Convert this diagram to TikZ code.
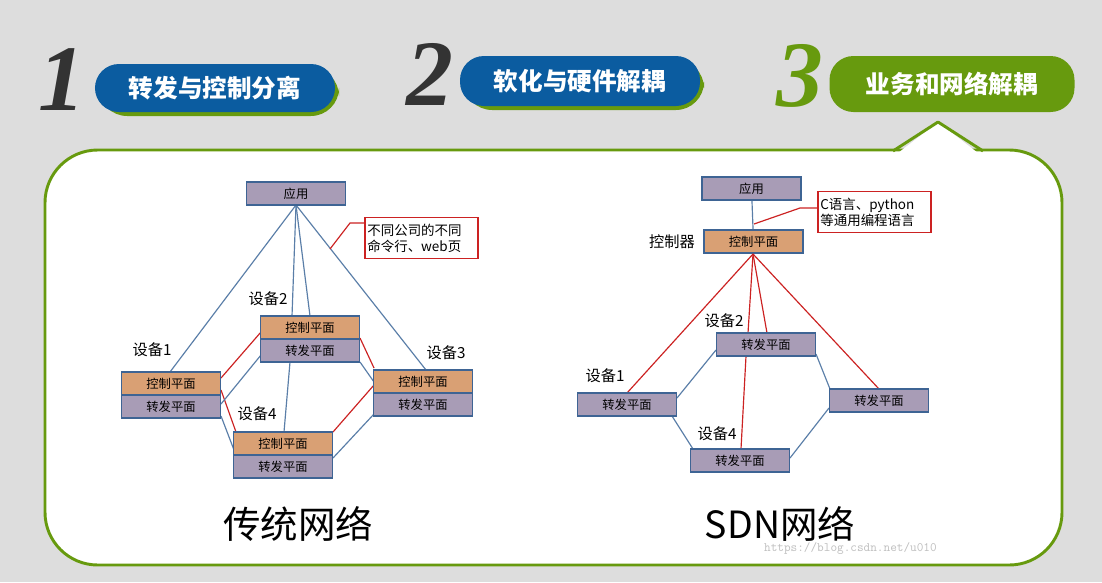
\documentclass[tikz,border=0pt]{standalone}
\usepackage{fontspec}
\setmainfont{Liberation Serif}
\newfontfamily\cjk{Noto Sans CJK SC}
\definecolor{bg}{HTML}{DDDDDD}
\definecolor{pblue}{HTML}{0B5CA0}
\definecolor{pgreen}{HTML}{679A0E}
\definecolor{boxp}{HTML}{A89CB6}
\definecolor{boxo}{HTML}{D9A074}
\definecolor{bord}{HTML}{3E6494}
\definecolor{lnblue}{HTML}{5A7EA8}
\definecolor{lnred}{HTML}{CC2222}
\begin{document}
\begin{tikzpicture}[x=0.03cm,y=-0.03cm,
  dbox/.style={draw=bord,line width=1.4pt,minimum width=2.97cm,minimum height=0.69cm,inner sep=0pt,font=\cjk\fontsize{10.5}{11}\selectfont},
  pb/.style={dbox,fill=boxp},
  po/.style={dbox,fill=boxo},
  lbl/.style={font=\cjk\fontsize{13}{14}\selectfont,anchor=center},
  bl/.style={lnblue,line width=1pt},
  rl/.style={lnred,line width=1pt},
  note/.style={draw=lnred,line width=1pt,fill=white,align=left,inner sep=2pt,minimum width=3.39cm,minimum height=1.23cm,font=\cjk\fontsize{11.5}{13.5}\selectfont,text width=3.25cm},
  pill/.style={rounded corners=0.72cm,inner sep=0pt,font=\cjk\bfseries\fontsize{21}{22}\selectfont,text=white},
  num/.style={font=\bfseries\itshape\fontsize{80}{80}\selectfont}]
\useasboundingbox (0,0) rectangle (1102,582);
\fill[bg] (0,0) rectangle (1102,582);
% header
\node[num,text=black!80] (n1) at (62,80) {1};
\fill[pgreen,rounded corners=24] (99,68) rectangle (339,116);
\node[pill,fill=pblue,minimum width=7.2cm,minimum height=1.44cm] (p1) at (215,88) {转发与控制分离};
\node[num,text=black!80] (n2) at (430,74) {2};
\fill[pgreen,rounded corners=24] (464,60) rectangle (704,110);
\node[pill,fill=pblue,minimum width=7.2cm,minimum height=1.5cm] (p2) at (580,81) {软化与硬件解耦};
\node[num,text=pgreen] (n3) at (800,76) {3};
\node[pill,fill=pgreen,minimum width=7.35cm,minimum height=1.68cm] (p3) at (952,84) {业务和网络解耦};
% panel
\draw[pgreen,line width=2.5pt,fill=white,rounded corners=45] (45,150) rectangle (1062,565);
\fill[white] (898,153) -- (938,122) -- (978,153) -- cycle;
\draw[pgreen,line width=2.5pt,line join=round] (893,151) -- (938,122) -- (983,151);
% ---------- left diagram
\coordinate (a0) at (296,205);
\draw[bl] (a0) -- (170,372);
\draw[bl] (a0) -- (292,316);
\draw[bl] (a0) -- (310,316);
\draw[bl] (a0) -- (426,370);
\coordinate (nl) at (330,249);
\node[note] (n1box) at (421.5,238) {不同公司的不同\\命令行、web页};
\coordinate (k1) at (350,223);
\draw[rl] (n1box.west|-k1) -- (k1) -- (nl);
\draw[rl] (221,378) -- (261,332);
\draw[rl] (221,390) -- (236,432);
\draw[rl] (360,338) -- (374,368);
\draw[rl] (374,385) -- (333,432);
\draw[bl] (221,404) -- (261,355);
\draw[bl] (221,416) -- (234,450);
\draw[bl] (290,362) -- (284,432);
\draw[bl] (360,362) -- (374,382);
\draw[bl] (374,414) -- (333,458);
\node[pb] (app) at (296,193.5) {应用};
\node[po] (c1) at (171,383.5) {控制平面};
\node[pb] (f1) at (171,406.5) {转发平面};
\node[po] (c2) at (310,327.5) {控制平面};
\node[pb] (f2) at (310,350.5) {转发平面};
\node[po] (c3) at (423,381.5) {控制平面};
\node[pb] (f3) at (423,404.5) {转发平面};
\node[po] (c4) at (283,443.5) {控制平面};
\node[pb] (f4) at (283,466.5) {转发平面};
\node[lbl] (l1) at (152,350) {设备1};
\node[lbl] (l2) at (268,299) {设备2};
\node[lbl] (l3) at (446,353) {设备3};
\node[lbl] (l4) at (257,414) {设备4};
\node[font=\cjk\fontsize{32}{33}\selectfont] (t1) at (298,524) {传统网络};
% ---------- right diagram
\node[pb] (app2) at (751.5,188.5) {应用};
\node[po] (ctl) at (753.5,241.5) {控制平面};
\draw[bl] (app2) -- (ctl);
\node[lbl] (lc) at (672,242) {控制器};
\node[note] (n2box) at (874.5,212) {C语言、python\\等通用编程语言};
\coordinate (nr) at (754,224);
\coordinate (k2) at (800,208);
\draw[rl] (n2box.west|-k2) -- (k2) -- (nr);
\coordinate (c0) at (753,254);
\draw[rl] (c0) -- (627,393);
\draw[rl] (c0) -- (748,333);
\draw[rl] (c0) -- (767,333);
\draw[rl] (c0) -- (879,389);
\draw[rl] (746,356) -- (741,449);
\draw[bl] (677,398) -- (716,350);
\draw[bl] (672,416) -- (693,449);
\draw[bl] (816,354) -- (830,389);
\draw[bl] (829,408) -- (790,458);
\node[pb] (g2) at (766,344.5) {转发平面};
\node[pb] (g1) at (627,404.5) {转发平面};
\node[pb] (g3) at (879,400.5) {转发平面};
\node[pb] (g4) at (740,460.5) {转发平面};
\node[lbl] (m2) at (724,321) {设备2};
\node[lbl] (m1) at (605,376) {设备1};
\node[lbl] (m4) at (717,434) {设备4};
\node[font=\cjk\fontsize{32}{33}\selectfont] (t2) at (780,524) {SDN网络};
\node[text=black!25,font=\ttfamily\fontsize{11}{11}\selectfont,anchor=west] (wm) at (760,548) {https://blog.csdn.net/u010};
\end{tikzpicture}
\end{document}
